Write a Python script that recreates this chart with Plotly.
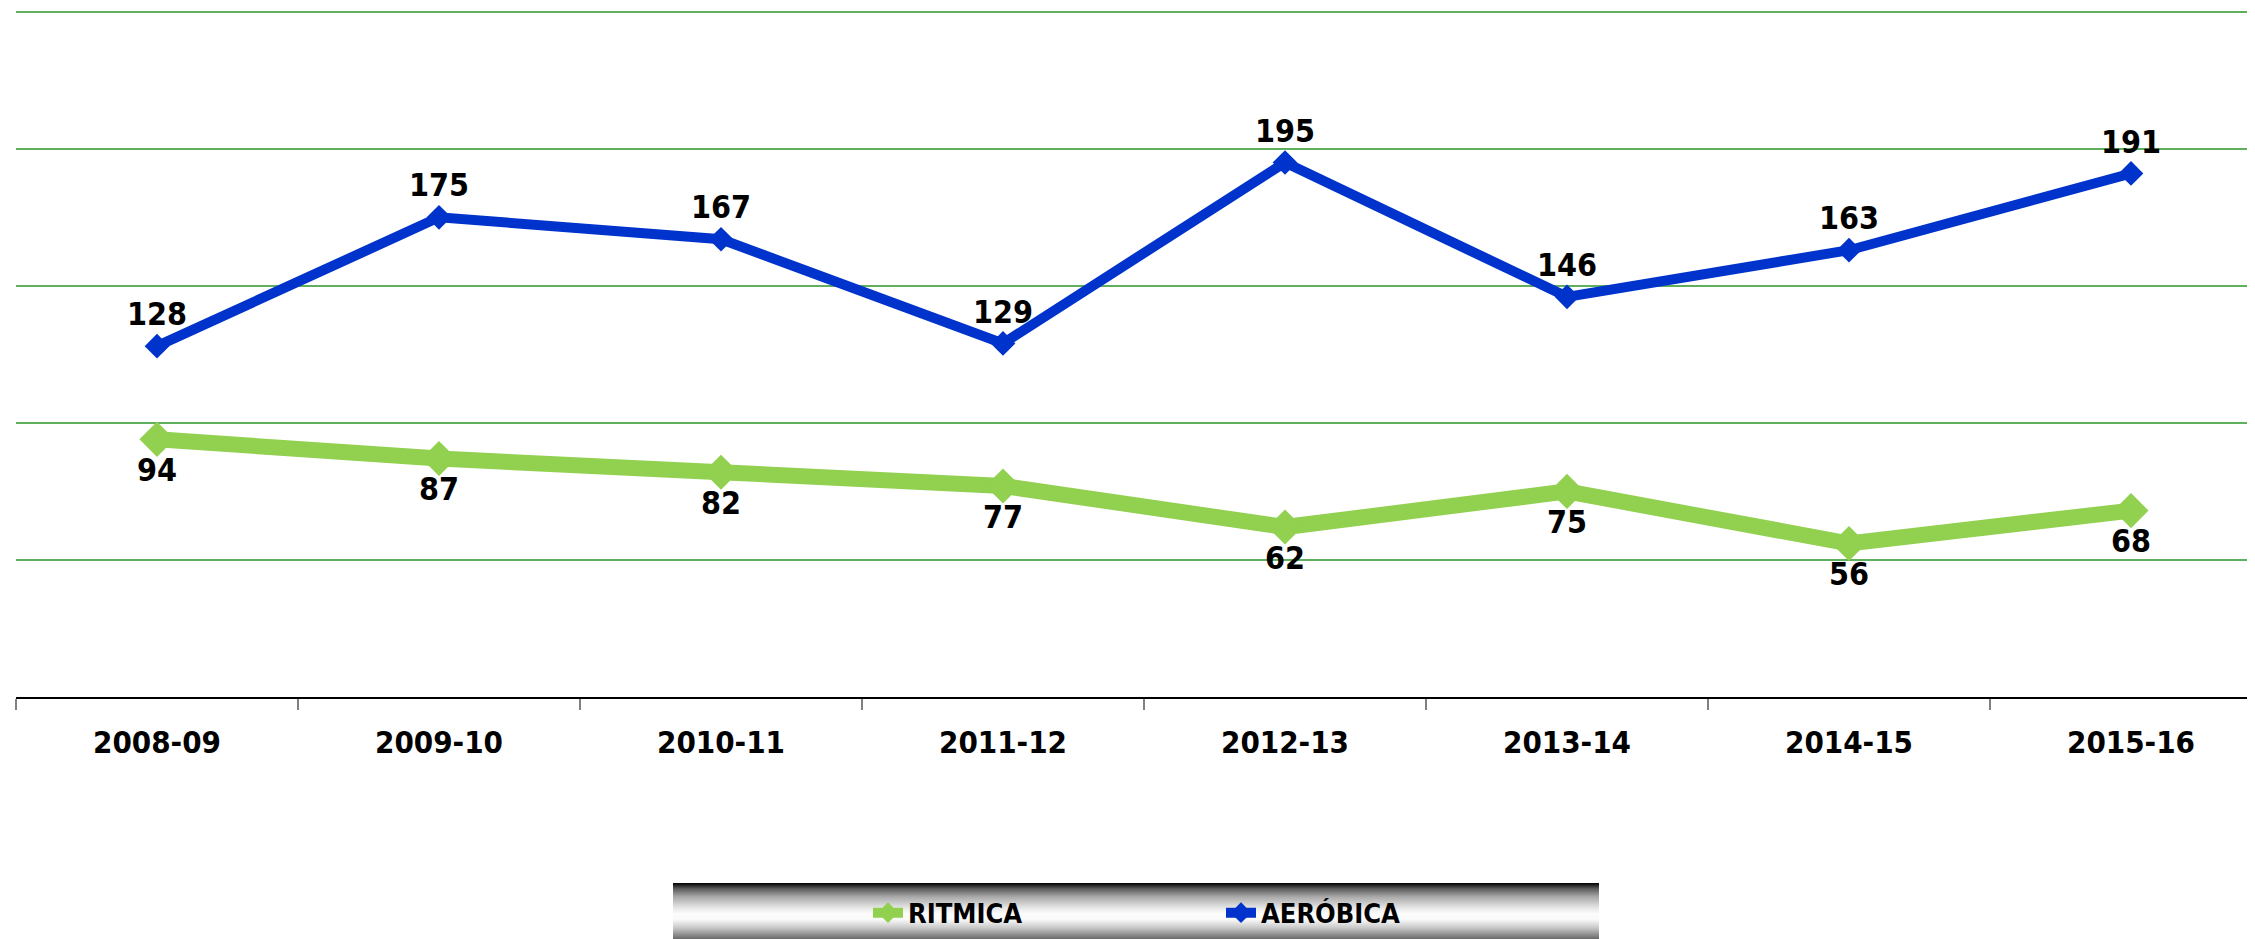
import plotly.graph_objects as go

seasons = ["2008-09", "2009-10", "2010-11", "2011-12", "2012-13", "2013-14", "2014-15", "2015-16"]
ritmica = [94, 87, 82, 77, 62, 75, 56, 68]
aerobica = [128, 175, 167, 129, 195, 146, 163, 191]

FONT = "DejaVu Sans Condensed, Liberation Sans Narrow, Arial Narrow, sans-serif"
GREEN = "#92D050"
BLUE = "#0033CC"

# the page body has an 8px default margin; design in page pixels
OFF = 8
W, H = 2255 - OFF, 939 - OFF
ML = 16 - OFF
plot_bottom = 697 - OFF
MB = H - plot_bottom
YMAX = 251.0
px_per_unit = (697 - 12) / 250.0
plot_h = YMAX * px_per_unit
MT = H - MB - plot_h
plot_w = W - ML
cat_px = 282.0

fig = go.Figure()
fig.add_trace(go.Scatter(
    x=seasons, y=ritmica, name="RITMICA", mode="lines+markers+text",
    line=dict(color=GREEN, width=16),
    marker=dict(symbol="diamond", size=27, color=GREEN),
    text=[str(v) for v in ritmica], textposition="bottom center",
    textfont=dict(family=FONT, size=32, color="black", weight="bold"),
    cliponaxis=False,
))
fig.add_trace(go.Scatter(
    x=seasons, y=aerobica, name="AERÓBICA", mode="lines+markers+text",
    line=dict(color=BLUE, width=10),
    marker=dict(symbol="diamond", size=19, color=BLUE),
    text=[str(v) for v in aerobica], textposition="top center",
    textfont=dict(family=FONT, size=32, color="black", weight="bold"),
    cliponaxis=False,
))

def px2paper_x(p):
    return (p - OFF - ML) / plot_w

def px2paper_y(p):
    return (H - MB - (p - OFF)) / plot_h

# gradient legend background (style only)
stops = [(0.0, 0), (0.1, 90), (0.25, 170), (0.45, 232), (0.55, 252), (0.65, 250), (0.8, 200), (1.0, 105)]

def gray(t):
    for (t0, g0), (t1, g1) in zip(stops[:-1], stops[1:]):
        if t0 <= t <= t1:
            return g0 + (g1 - g0) * (t - t0) / (t1 - t0)
    return stops[-1][1]

top, bot = 883, 939
x0, x1 = 673, 1599
n = bot - top
shapes = []
for i in range(n):
    g = int(round(gray((i + 0.5) / n)))
    shapes.append(dict(type="rect", xref="paper", yref="paper",
                       x0=px2paper_x(x0), x1=px2paper_x(x1),
                       y0=px2paper_y(top + i), y1=px2paper_y(top + i + 1.05),
                       line=dict(width=0), fillcolor=f"rgb({g},{g},{g})", layer="below"))

fig.update_layout(
    width=W, height=H,
    margin=dict(l=ML, r=0, t=MT, b=MB, autoexpand=False),
    plot_bgcolor="white", paper_bgcolor="white",
    showlegend=True,
    legend=dict(orientation="h", x=px2paper_x(868), xanchor="left",
                y=px2paper_y(913), yanchor="middle",
                bgcolor="rgba(0,0,0,0)",
                font=dict(family=FONT, size=27, color="black", weight="bold"),
                entrywidth=308),
    shapes=shapes,
    xaxis=dict(type="category", range=[-0.5, -0.5 + plot_w / cat_px], automargin=False,
               showline=True, linecolor="black", linewidth=2,
               ticks="outside", tickson="boundaries", ticklen=11, tickcolor="#808080", tickwidth=2,
               showgrid=False,
               tickfont=dict(family=FONT, size=31, color="black", weight="bold"),
               ticklabelstandoff=17),
    yaxis=dict(range=[0, YMAX], tickvals=[50, 100, 150, 200, 250], showticklabels=False,
               automargin=False,
               showgrid=True, gridcolor="#5FAF5F", gridwidth=1.5,
               zeroline=False, showline=False),
)

fig.write_html("out.html")
